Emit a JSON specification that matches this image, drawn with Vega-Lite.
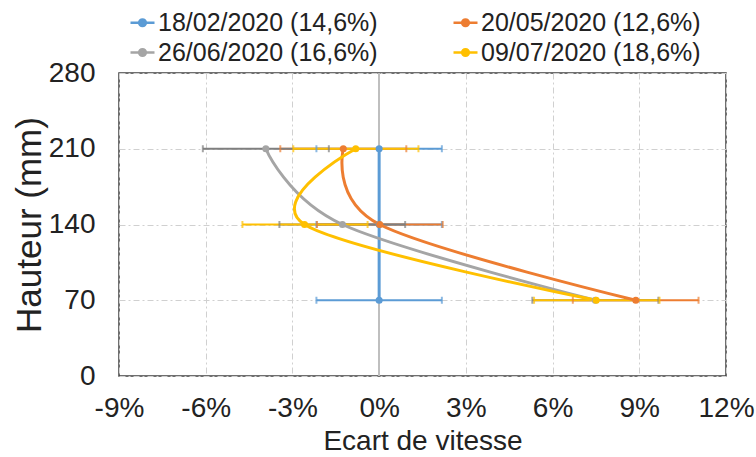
{
  "$schema": "https://vega.github.io/schema/vega-lite/v6.json",
  "width": 607,
  "height": 303,
  "autosize": {"type": "none"},
  "padding": {"left": 119, "top": 73, "right": 30, "bottom": 81},
  "background": "white",
  "config": {
    "font": "Liberation Sans",
    "view": {"stroke": "#404040", "strokeWidth": 1.5},
    "axis": {
      "labelFont": "Liberation Sans",
      "titleFont": "Liberation Sans",
      "labelColor": "#222222",
      "titleColor": "#222222",
      "labelFontSize": 28,
      "titleFontSize": 28,
      "titleFontWeight": "normal",
      "ticks": false,
      "domain": false,
      "grid": true,
      "gridColor": "#d0d0d0",
      "gridDash": [6, 3, 2, 3],
      "gridWidth": 1,
      "labelFlush": false
    }
  },
  "data": {
    "values": [
      {"serie": "18/02/2020 (14,6%)", "x": 0, "y": 70, "lo": -2.17, "hi": 2.17},
      {"serie": "18/02/2020 (14,6%)", "x": 0, "y": 140, "lo": -2.17, "hi": 2.17},
      {"serie": "18/02/2020 (14,6%)", "x": 0, "y": 210, "lo": -2.17, "hi": 2.17},
      {"serie": "20/05/2020 (12,6%)", "x": 8.88, "y": 70, "lo": 6.7, "hi": 11.05},
      {"serie": "20/05/2020 (12,6%)", "x": 0.02, "y": 140, "lo": -2.15, "hi": 2.2},
      {"serie": "20/05/2020 (12,6%)", "x": -1.24, "y": 210, "lo": -3.42, "hi": 0.94},
      {"serie": "26/06/2020 (16,6%)", "x": 7.48, "y": 70, "lo": 5.3, "hi": 9.66},
      {"serie": "26/06/2020 (16,6%)", "x": -1.27, "y": 140, "lo": -3.45, "hi": 0.9},
      {"serie": "26/06/2020 (16,6%)", "x": -3.92, "y": 210, "lo": -6.1, "hi": -1.74},
      {"serie": "09/07/2020 (18,6%)", "x": 7.51, "y": 70, "lo": 5.36, "hi": 9.7},
      {"serie": "09/07/2020 (18,6%)", "x": -2.58, "y": 140, "lo": -4.73, "hi": -0.4},
      {"serie": "09/07/2020 (18,6%)", "x": -0.81, "y": 210, "lo": -2.97, "hi": 1.36}
    ]
  },
  "encoding": {
    "y": {
      "field": "y", "type": "quantitative",
      "scale": {"domain": [0, 280], "nice": false, "zero": false},
      "axis": {"values": [0, 70, 140, 210, 280], "title": "Hauteur (mm)", "titleFontSize": 35, "labelPadding": 24, "titlePadding": 1}
    }
  },
  "layer": [
    {
      "mark": {"type": "rule", "color": "#bfbfbf", "strokeWidth": 1.5},
      "encoding": {"x": {"datum": 0, "type": "quantitative"}, "y": {"value": 0}, "y2": {"value": 303}}
    },
    {
      "mark": {"type": "rule", "strokeWidth": 2},
      "encoding": {
        "x": {"field": "lo", "type": "quantitative"},
        "x2": {"field": "hi"},
        "stroke": {
          "field": "serie", "type": "nominal", "legend": null,
          "scale": {"domain": ["09/07/2020 (18,6%)", "26/06/2020 (16,6%)", "20/05/2020 (12,6%)", "18/02/2020 (14,6%)"], "range": ["#FFC000", "#7f7f7f", "#ED7D31", "#5B9BD5"]}
        }
      }
    },
    {
      "mark": {"type": "line", "interpolate": "cardinal", "tension": 0, "strokeWidth": 3},
      "encoding": {
        "x": {
          "field": "x", "type": "quantitative",
          "scale": {"domain": [-9, 12], "nice": false, "zero": false},
          "axis": {"values": [-9, -6, -3, 0, 3, 6, 9, 12], "labelExpr": "datum.value + '%'", "title": "Ecart de vitesse", "labelPadding": 18, "titlePadding": 5}
        },
        "order": {"field": "y", "type": "quantitative"},
        "color": {
          "field": "serie", "type": "nominal",
          "scale": {"domain": ["18/02/2020 (14,6%)", "20/05/2020 (12,6%)", "26/06/2020 (16,6%)", "09/07/2020 (18,6%)"], "range": ["#5B9BD5", "#ED7D31", "#A5A5A5", "#FFC000"]},
          "legend": {
            "orient": "none", "legendX": 10, "legendY": -64,
            "title": null, "columns": 2, "direction": "horizontal",
            "labelFont": "Liberation Sans", "labelFontSize": 25, "labelColor": "#222222", "labelLimit": 400,
            "labelOffset": 2, "columnPadding": 70, "rowPadding": 3,
            "symbolType": "M-1,0H1M0.28,0A0.28,0.28 0 1,1 -0.28,0A0.28,0.28 0 1,1 0.28,0Z",
            "symbolSize": 576, "symbolStrokeWidth": 2.5,
            "encode": {"symbols": {"update": {"fill": {"scale": "color", "field": "value"}, "stroke": {"scale": "color", "field": "value"}, "opacity": {"value": 1}}}}
          }
        }
      }
    },
    {
      "mark": {"type": "tick", "orient": "vertical", "size": 7, "thickness": 2},
      "encoding": {
        "x": {"field": "lo", "type": "quantitative"},
        "fill": {
          "field": "serie", "type": "nominal", "legend": null,
          "scale": {"domain": ["09/07/2020 (18,6%)", "26/06/2020 (16,6%)", "20/05/2020 (12,6%)", "18/02/2020 (14,6%)"], "range": ["#FFC000", "#7f7f7f", "#ED7D31", "#5B9BD5"]}
        }
      }
    },
    {
      "mark": {"type": "tick", "orient": "vertical", "size": 7, "thickness": 2},
      "encoding": {
        "x": {"field": "hi", "type": "quantitative"},
        "fill": {"field": "serie", "type": "nominal", "legend": null}
      }
    },
    {
      "mark": {"type": "point", "filled": true, "size": 50, "opacity": 1},
      "encoding": {
        "x": {"field": "x", "type": "quantitative"},
        "color": {"field": "serie", "type": "nominal"}
      }
    }
  ]
}
